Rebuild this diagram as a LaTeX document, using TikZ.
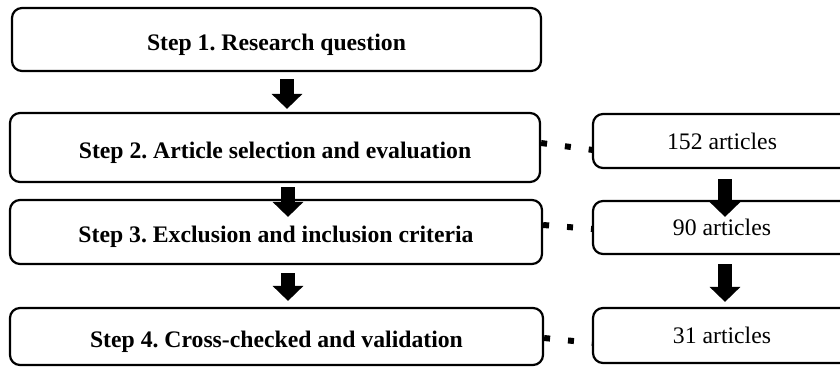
\documentclass[tikz,border=0pt]{standalone}
\usepackage{fontspec}
\setmainfont{Liberation Serif}
\usetikzlibrary{calc,arrows.meta}
\frenchspacing
\begin{document}
\begin{tikzpicture}[x=1pt,y=-1pt,
  box/.style={draw=black, line width=2.2pt, rounded corners=10pt, fill=white, inner sep=0pt,
    font=\fontsize{23.7}{28}\selectfont\frenchspacing},
  stepbox/.style={box, font=\fontsize{23.7}{28}\selectfont\bfseries\frenchspacing,
    text height=21pt, text depth=0pt},
  blockarrow/.style={line width=14pt, -{Triangle[length=15pt,width=30pt]}},
  squaredots/.style={line width=6pt, dash pattern=on 6pt off 18pt}]
\clip (0,0) rectangle (840,367);
\fill[white] (0,0) rectangle (840,367);
\node[stepbox, minimum width=529pt, minimum height=63pt] (b1) at (276.5,39.5) {Step 1. Research question};
\node[stepbox, minimum width=530pt, minimum height=69pt] (b2) at (275,147.5) {Step 2. Article selection and evaluation};
\node[stepbox, minimum width=532pt, minimum height=64pt] (b3) at (276,232) {Step 3. Exclusion and inclusion criteria};
\node[stepbox, minimum width=533pt, minimum height=57pt] (b4) at (276.5,336.5) {Step 4. Cross-checked and validation};
\node[box, minimum width=258pt, minimum height=54pt] (r1) at (722,141) {152 articles};
\node[box, minimum width=258pt, minimum height=53pt] (r2) at (722,227.5) {90 articles};
\node[box, minimum width=258pt, minimum height=55pt] (r3) at (722,335.5) {31 articles};
% block arrows
\draw[blockarrow] ($(b1.south)+(10.5,7)$) -- ($(b2.north)+(12,-3)$);
\draw[blockarrow] ($(b2.south)+(13,4)$) -- ($(b3.north)+(12,18)$);
\draw[blockarrow] ($(b3.south)+(12,8)$) -- ($(b4.north)+(11.5,-6)$);
\draw[blockarrow] ($(r1.south)+(3,10)$) -- ($(r2.north)+(3,17)$);
\draw[blockarrow] ($(r2.south)+(3,9)$) -- ($(r3.north)+(3,-5)$);
% square-dot connectors
\draw[squaredots] ($(b2.east)+(0,-4.5)$) -- ($(r1.west)+(1,9)$);
\draw[squaredots] ($(b3.east)+(0,-7)$) -- ($(r2.west)+(1,1.5)$);
\draw[squaredots] ($(b4.east)+(0,1.5)$) -- ($(r3.west)+(1,7.5)$);
\end{tikzpicture}
\end{document}
